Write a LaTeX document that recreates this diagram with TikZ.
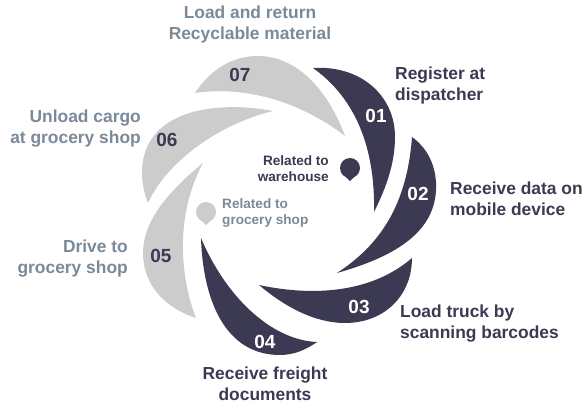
\documentclass[tikz,border=0pt]{standalone}
\usepackage{fontspec}
\setmainfont{Liberation Sans}[BoldFont={Liberation Sans Bold}]
\definecolor{navy}{HTML}{3B3A52}
\definecolor{lightg}{HTML}{CCCCCC}
\definecolor{slate}{HTML}{7A8A99}
\tikzset{
  numdark/.style={text=white,font=\fontsize{19}{20}\selectfont\bfseries,inner sep=0pt},
  numgrey/.style={text=navy,font=\fontsize{19}{20}\selectfont\bfseries,inner sep=0pt},
  lab/.style={font=\fontsize{17.4}{21}\selectfont\bfseries,inner sep=0pt},
  small/.style={font=\fontsize{13.6}{16}\selectfont\bfseries,inner sep=0pt},
}
\begin{document}
\begin{tikzpicture}[x=1pt,y=-1pt]
\useasboundingbox (0,0) rectangle (584,403);
% dark blades
\fill[navy] (313,68) .. controls (360,65) and (395,95) .. (395,137) .. controls (395,165) and (385,190) .. (374,212) .. controls (375,165) and (365,105) .. (313,68) -- cycle;
\fill[navy] (412,137) .. controls (430,150) and (437,170) .. (436,190) .. controls (434,235) and (390,258) .. (337,273) .. controls (380,245) and (407,205) .. (412,137) -- cycle;
\fill[navy] (412,258) .. controls (412,295) and (385,323) .. (345,323) .. controls (315,323) and (285,307) .. (259,285) .. controls (320,298) and (375,290) .. (412,258) -- cycle;
\fill[navy] (201,238) .. controls (203,300) and (225,355) .. (280,355) .. controls (295,355) and (307,349) .. (317,342) .. controls (270,340) and (225,295) .. (201,238) -- cycle;
% grey blades
\fill[lightg] (203,163) .. controls (170,190) and (143,220) .. (143,253) .. controls (143,285) and (165,308) .. (196,318) .. controls (185,290) and (170,225) .. (203,163) -- cycle;
\fill[lightg] (273,111) .. controls (215,100) and (142,110) .. (142,173) .. controls (142,183) and (144,193) .. (148,203) .. controls (165,165) and (215,125) .. (273,111) -- cycle;
\fill[lightg] (195,93) .. controls (210,70) and (232,56) .. (258,56) .. controls (300,56) and (330,95) .. (345,136) .. controls (305,105) and (250,85) .. (195,93) -- cycle;
% pins
\fill[navy] (350,168) circle[radius=10];
\fill[navy] (350,181) -- (341.5,173) -- (358.5,173) -- cycle;
\fill[lightg] (206,212) circle[radius=10];
\fill[lightg] (206,225) -- (197.5,217) -- (214.5,217) -- cycle;
% numbers
\node[numdark] (n1) at (376,115.5) {01};
\node[numdark] (n2) at (418,193.5) {02};
\node[numdark] (n3) at (359,306.5) {03};
\node[numdark] (n4) at (265,341.5) {04};
\node[numgrey] (n5) at (161,255.5) {05};
\node[numgrey] (n6) at (167,139.5) {06};
\node[numgrey] (n7) at (240,74.5) {07};
% labels
\node[lab,text=slate,align=center,anchor=center] (t7) at (250,24.5) {Load and return\\Recyclable material};
\node[lab,text=navy,align=left,anchor=west] (t1) at (395,86) {Register at\\dispatcher};
\node[lab,text=navy,align=left,anchor=west] (t2) at (450,198.5) {Receive data on\\mobile device};
\node[lab,text=navy,align=left,anchor=west] (t3) at (400,323.5) {Load truck by\\scanning barcodes};
\node[lab,text=navy,align=center,anchor=center] (t4) at (265,383.5) {Receive freight\\documents};
\node[lab,text=slate,align=right,anchor=east] (t5) at (128,258.5) {Drive to\\grocery shop};
\node[lab,text=slate,align=right,anchor=east] (t6) at (141,129) {Unload cargo\\at grocery shop};
\node[small,text=navy,align=right,anchor=east] (w) at (329,169) {Related to\\warehouse};
\node[small,text=slate,align=left,anchor=west] (g) at (222,213.5) {Related to\\grocery shop};
\end{tikzpicture}
\end{document}
